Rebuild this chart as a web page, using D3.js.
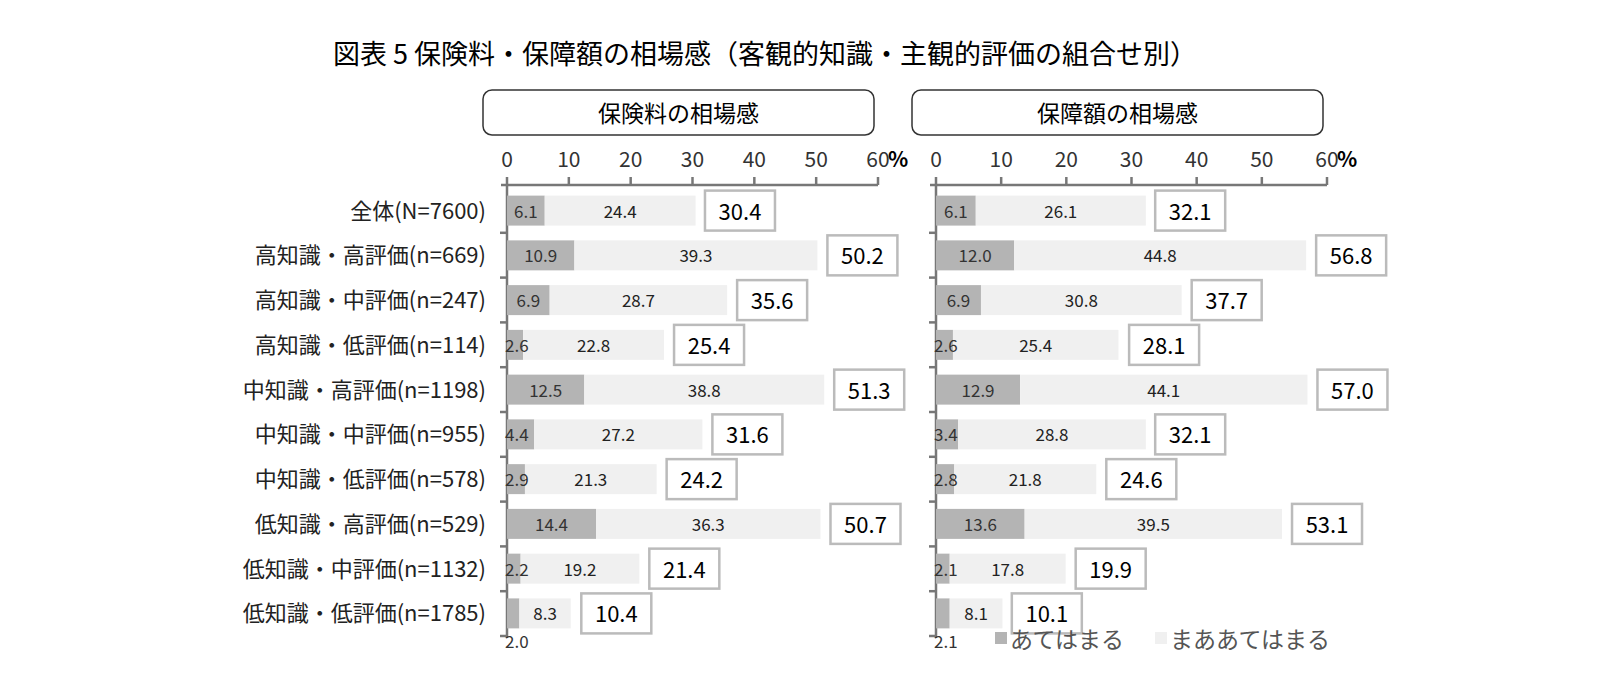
<!DOCTYPE html><html><head><meta charset="utf-8"><script src="https://cdn.jsdelivr.net/npm/d3@7"></script>
<style>body{margin:0;background:#fff}text{font-family:"Noto Sans CJK JP",sans-serif}</style></head><body><svg id="c" width="1621" height="688"></svg>
<script>
const categories=["全体(N=7600)","高知識・高評価(n=669)","高知識・中評価(n=247)","高知識・低評価(n=114)","中知識・高評価(n=1198)","中知識・中評価(n=955)","中知識・低評価(n=578)","低知識・高評価(n=529)","低知識・中評価(n=1132)","低知識・低評価(n=1785)"];
const premStrong=[6.1,10.9,6.9,2.6,12.5,4.4,2.9,14.4,2.2,2.0];
const premSome=[24.4,39.3,28.7,22.8,38.8,27.2,21.3,36.3,19.2,8.3];
const premTotal=[30.4,50.2,35.6,25.4,51.3,31.6,24.2,50.7,21.4,10.4];
const covStrong=[6.1,12.0,6.9,2.6,12.9,3.4,2.8,13.6,2.1,2.1];
const covSome=[26.1,44.8,30.8,25.4,44.1,28.8,21.8,39.5,17.8,8.1];
const covTotal=[32.1,56.8,37.7,28.1,57.0,32.1,24.6,53.1,19.9,10.1];
const ticks=[0,10,20,30,40,50,60];
const svg=d3.select("#c");
svg.append("text").attr("x",765).attr("y",64).attr("text-anchor","middle").attr("font-size",27).attr("font-family","Noto Serif CJK JP, Noto Sans CJK JP").text("図表 5 保険料・保障額の相場感（客観的知識・主観的評価の組合せ別）");
const y=d3.scaleBand().domain(categories).range([188,636]).paddingInner(0.33).paddingOuter(0.17);
function panel(x0,x1,title,s,m,t,showLabels){
 const x=d3.scaleLinear().domain([0,60]).range([x0,x1]);
 svg.append("rect").attr("x",x0-24).attr("y",90).attr("width",x1-x0+20).attr("height",45).attr("rx",9).attr("fill","#fff").attr("stroke","#333").attr("stroke-width",1.5);
 svg.append("text").attr("x",(x0+x1)/2-14).attr("y",122).attr("text-anchor","middle").attr("font-size",23).text(title);
 const g=svg.append("g");
 g.append("line").attr("x1",x0-6).attr("x2",x1).attr("y1",185).attr("y2",185).attr("stroke","#777").attr("stroke-width",2.5);
 ticks.forEach(v=>{g.append("line").attr("x1",x(v)).attr("x2",x(v)).attr("y1",177).attr("y2",185).attr("stroke","#777").attr("stroke-width",2.5);
  g.append("text").attr("x",x(v)).attr("y",167).attr("text-anchor","middle").attr("font-size",21).attr("fill","#333").attr("font-family","Roboto").text(v);});
 g.append("text").attr("x",x(60)+10).attr("y",167).attr("font-size",21).attr("font-weight","bold").text("%");
 g.append("line").attr("x1",x0).attr("x2",x0).attr("y1",185).attr("y2",638).attr("stroke","#777").attr("stroke-width",2.5);
 categories.forEach((c,i)=>{const yb=188+i*44.8;g.append("line").attr("x1",x0-7).attr("x2",x0).attr("y1",yb+44.8).attr("y2",yb+44.8).attr("stroke","#777").attr("stroke-width",2.5);
  const by=y(c),bh=y.bandwidth(),cy=by+bh/2;
  g.append("rect").attr("x",x(0)).attr("y",by).attr("width",x(s[i])-x(0)).attr("height",bh).attr("fill","#b4b4b4");
  g.append("rect").attr("x",x(s[i])).attr("y",by).attr("width",x(s[i]+m[i])-x(s[i])).attr("height",bh).attr("fill","#f0f0f0");
  const last=i===categories.length-1;
  g.append("text").attr("x",s[i]<5?x(0)-2:(x(0)+x(s[i]))/2).attr("text-anchor",s[i]<5?"start":"middle").attr("y",last?cy+35:cy+7).attr("font-size",17).attr("fill","#333").attr("font-family","Roboto").text(s[i].toFixed(1));
  g.append("text").attr("x",(x(s[i])+x(s[i]+m[i]))/2).attr("y",cy+7).attr("text-anchor","middle").attr("font-size",17).attr("fill","#222").attr("font-family","Roboto").text(m[i].toFixed(1));
  const bx=x(t[i])+10;
  g.append("rect").attr("x",bx).attr("y",cy-20).attr("width",70).attr("height",40).attr("fill","#fff").attr("stroke","#bbb").attr("stroke-width",2.5);
  g.append("text").attr("x",bx+35).attr("y",cy+9).attr("text-anchor","middle").attr("font-size",22).attr("font-family","Roboto").text(t[i].toFixed(1));
  if(showLabels) svg.append("text").attr("x",486).attr("y",cy+8).attr("text-anchor","end").attr("font-size",22).attr("fill","#222").text(c);
 });
}
panel(507,878,"保険料の相場感",premStrong,premSome,premTotal,true);
panel(936,1327,"保障額の相場感",covStrong,covSome,covTotal,false);
const lg=svg.append("g");
lg.append("rect").attr("x",995).attr("y",632).attr("width",12).attr("height",12).attr("fill","#b4b4b4");
lg.append("text").attr("x",1010).attr("y",648).attr("font-size",23).attr("fill","#555").text("あてはまる");
lg.append("rect").attr("x",1155).attr("y",632).attr("width",12).attr("height",12).attr("fill","#f0f0f0");
lg.append("text").attr("x",1170).attr("y",648).attr("font-size",23).attr("fill","#555").text("まああてはまる");
</script></body></html>
